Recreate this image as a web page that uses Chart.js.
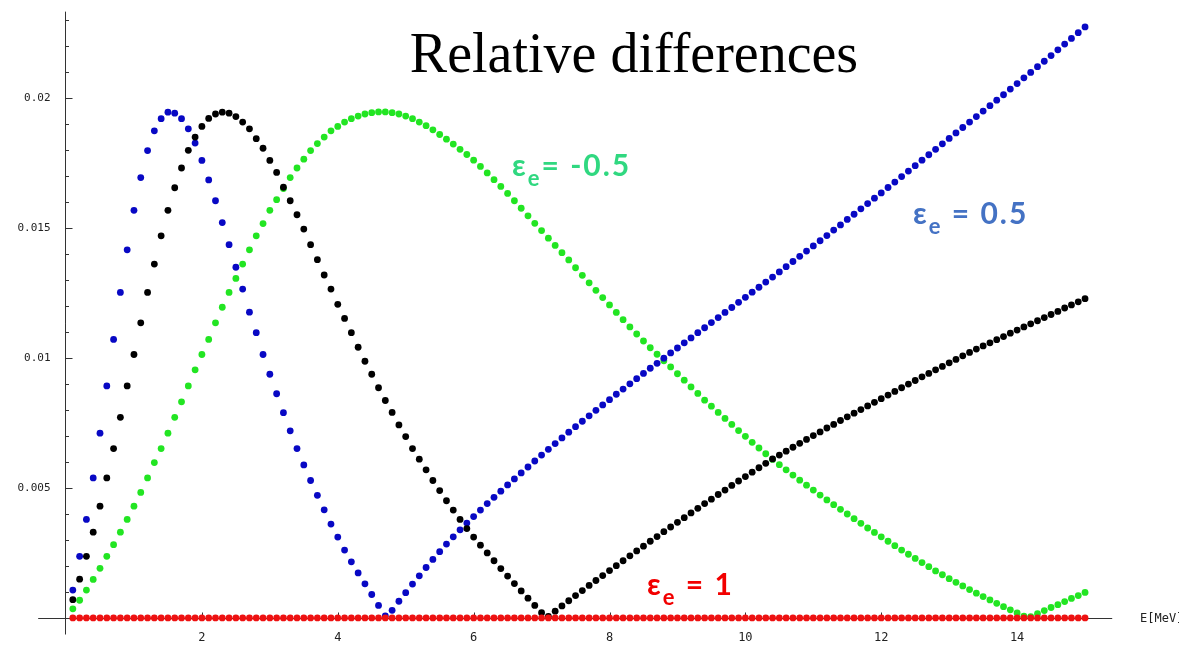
<!DOCTYPE html>
<html>
<head>
<meta charset="utf-8">
<script src="https://cdn.jsdelivr.net/npm/chart.js@4.4.1/dist/chart.umd.min.js"></script>
<style>
  html, body { margin: 0; padding: 0; background: #fff; }
  #wrap { width: 1179px; height: 649px; }
</style>
</head>
<body>
<div id="wrap"><canvas id="plot" width="1179" height="649"></canvas></div>
<script>
// neutrino energy grid, MeV
const energies = [
  0.1, 0.2, 0.3, 0.4, 0.5, 0.6, 0.7, 0.8, 0.9, 1.0,
  1.1, 1.2, 1.3, 1.4, 1.5, 1.6, 1.7, 1.8, 1.9, 2.0,
  2.1, 2.2, 2.3, 2.4, 2.5, 2.6, 2.7, 2.8, 2.9, 3.0,
  3.1, 3.2, 3.3, 3.4, 3.5, 3.6, 3.7, 3.8, 3.9, 4.0,
  4.1, 4.2, 4.3, 4.4, 4.5, 4.6, 4.7, 4.8, 4.9, 5.0,
  5.1, 5.2, 5.3, 5.4, 5.5, 5.6, 5.7, 5.8, 5.9, 6.0,
  6.1, 6.2, 6.3, 6.4, 6.5, 6.6, 6.7, 6.8, 6.9, 7.0,
  7.1, 7.2, 7.3, 7.4, 7.5, 7.6, 7.7, 7.8, 7.9, 8.0,
  8.1, 8.2, 8.3, 8.4, 8.5, 8.6, 8.7, 8.8, 8.9, 9.0,
  9.1, 9.2, 9.3, 9.4, 9.5, 9.6, 9.7, 9.8, 9.9, 10.0,
  10.1, 10.2, 10.3, 10.4, 10.5, 10.6, 10.7, 10.8, 10.9, 11.0,
  11.1, 11.2, 11.3, 11.4, 11.5, 11.6, 11.7, 11.8, 11.9, 12.0,
  12.1, 12.2, 12.3, 12.4, 12.5, 12.6, 12.7, 12.8, 12.9, 13.0,
  13.1, 13.2, 13.3, 13.4, 13.5, 13.6, 13.7, 13.8, 13.9, 14.0,
  14.1, 14.2, 14.3, 14.4, 14.5, 14.6, 14.7, 14.8, 14.9, 15.0
];

// relative difference, eps_e = 0.5 (blue)
const diffPlusHalf = [
  0.00107, 0.00237, 0.00379, 0.00539, 0.00711, 0.00893, 0.01072, 0.01253, 0.01417, 0.01569,
  0.01695, 0.01799, 0.01875, 0.01922, 0.01947, 0.01943, 0.01922, 0.01883, 0.01828, 0.01761,
  0.01686, 0.01606, 0.01522, 0.01437, 0.01350, 0.01266, 0.01177, 0.01098, 0.01014, 0.00938,
  0.00863, 0.00790, 0.00720, 0.00652, 0.00589, 0.00529, 0.00472, 0.00416, 0.00361, 0.00311,
  0.00261, 0.00216, 0.00173, 0.00131, 0.00090, 0.00048, 0.00008, 0.00029, 0.00064, 0.00097,
  0.00130, 0.00162, 0.00194, 0.00225, 0.00255, 0.00284, 0.00312, 0.00339, 0.00365, 0.00390,
  0.00415, 0.00440, 0.00464, 0.00488, 0.00512, 0.00535, 0.00558, 0.00581, 0.00604, 0.00627,
  0.00649, 0.00671, 0.00693, 0.00715, 0.00736, 0.00757, 0.00778, 0.00799, 0.00820, 0.00840,
  0.00861, 0.00881, 0.00901, 0.00921, 0.00941, 0.00961, 0.00980, 0.01000, 0.01020, 0.01039,
  0.01059, 0.01078, 0.01098, 0.01117, 0.01137, 0.01156, 0.01176, 0.01195, 0.01215, 0.01234,
  0.01254, 0.01273, 0.01293, 0.01312, 0.01332, 0.01352, 0.01372, 0.01392, 0.01412, 0.01432,
  0.01452, 0.01472, 0.01493, 0.01513, 0.01534, 0.01554, 0.01575, 0.01595, 0.01616, 0.01636,
  0.01657, 0.01678, 0.01699, 0.01720, 0.01741, 0.01762, 0.01783, 0.01804, 0.01825, 0.01846,
  0.01867, 0.01888, 0.01909, 0.01930, 0.01951, 0.01972, 0.01993, 0.02014, 0.02036, 0.02057,
  0.02079, 0.02100, 0.02122, 0.02143, 0.02165, 0.02187, 0.02209, 0.02231, 0.02253, 0.02275
];

// unlabelled black series
const diffBlack = [
  0.00070, 0.00149, 0.00237, 0.00330, 0.00430, 0.00539, 0.00652, 0.00772, 0.00893, 0.01014,
  0.01136, 0.01253, 0.01362, 0.01471, 0.01569, 0.01656, 0.01732, 0.01800, 0.01851, 0.01892,
  0.01923, 0.01940, 0.01947, 0.01943, 0.01930, 0.01909, 0.01883, 0.01845, 0.01808, 0.01761,
  0.01715, 0.01658, 0.01606, 0.01552, 0.01497, 0.01437, 0.01379, 0.01320, 0.01266, 0.01207,
  0.01153, 0.01098, 0.01042, 0.00988, 0.00938, 0.00886, 0.00837, 0.00791, 0.00743, 0.00698,
  0.00652, 0.00611, 0.00570, 0.00529, 0.00490, 0.00451, 0.00415, 0.00379, 0.00344, 0.00311,
  0.00280, 0.00250, 0.00220, 0.00190, 0.00161, 0.00132, 0.00104, 0.00076, 0.00048, 0.00020,
  0.00006, 0.00026, 0.00046, 0.00066, 0.00086, 0.00105, 0.00125, 0.00144, 0.00163, 0.00182,
  0.00201, 0.00220, 0.00239, 0.00258, 0.00276, 0.00295, 0.00313, 0.00332, 0.00350, 0.00368,
  0.00386, 0.00404, 0.00422, 0.00440, 0.00457, 0.00475, 0.00492, 0.00510, 0.00527, 0.00544,
  0.00561, 0.00578, 0.00595, 0.00612, 0.00627, 0.00642, 0.00657, 0.00672, 0.00687, 0.00702,
  0.00716, 0.00731, 0.00745, 0.00760, 0.00774, 0.00788, 0.00802, 0.00816, 0.00830, 0.00844,
  0.00858, 0.00872, 0.00886, 0.00900, 0.00914, 0.00928, 0.00941, 0.00955, 0.00968, 0.00982,
  0.00995, 0.01009, 0.01022, 0.01035, 0.01047, 0.01059, 0.01071, 0.01083, 0.01096, 0.01108,
  0.01120, 0.01132, 0.01144, 0.01156, 0.01168, 0.01180, 0.01193, 0.01205, 0.01217, 0.01229
];

// relative difference, eps_e = -0.5 (green)
const diffMinusHalf = [
  0.00035, 0.00068, 0.00107, 0.00148, 0.00191, 0.00237, 0.00282, 0.00330, 0.00379, 0.00430,
  0.00483, 0.00539, 0.00598, 0.00652, 0.00711, 0.00772, 0.00832, 0.00893, 0.00955, 0.01014,
  0.01072, 0.01136, 0.01196, 0.01253, 0.01307, 0.01362, 0.01417, 0.01471, 0.01518, 0.01569,
  0.01610, 0.01653, 0.01695, 0.01732, 0.01766, 0.01799, 0.01826, 0.01851, 0.01875, 0.01892,
  0.01909, 0.01922, 0.01932, 0.01940, 0.01945, 0.01948, 0.01948, 0.01945, 0.01940, 0.01932,
  0.01922, 0.01909, 0.01895, 0.01879, 0.01861, 0.01843, 0.01824, 0.01804, 0.01784, 0.01762,
  0.01738, 0.01713, 0.01687, 0.01661, 0.01634, 0.01606, 0.01577, 0.01548, 0.01519, 0.01491,
  0.01462, 0.01434, 0.01406, 0.01378, 0.01348, 0.01319, 0.01290, 0.01261, 0.01233, 0.01205,
  0.01176, 0.01148, 0.01120, 0.01093, 0.01066, 0.01040, 0.01015, 0.00990, 0.00966, 0.00940,
  0.00915, 0.00889, 0.00864, 0.00838, 0.00815, 0.00791, 0.00768, 0.00745, 0.00721, 0.00699,
  0.00676, 0.00654, 0.00632, 0.00610, 0.00590, 0.00570, 0.00550, 0.00530, 0.00511, 0.00492,
  0.00473, 0.00454, 0.00436, 0.00418, 0.00400, 0.00382, 0.00364, 0.00346, 0.00329, 0.00312,
  0.00295, 0.00278, 0.00261, 0.00245, 0.00229, 0.00213, 0.00197, 0.00181, 0.00166, 0.00151,
  0.00137, 0.00123, 0.00109, 0.00095, 0.00082, 0.00069, 0.00056, 0.00043, 0.00031, 0.00019,
  0.00007, 0.00005, 0.00016, 0.00028, 0.00040, 0.00051, 0.00063, 0.00075, 0.00086, 0.00098
];

// relative difference, eps_e = 1 (red)
const diffOne = [
  0, 0, 0, 0, 0, 0, 0, 0, 0, 0,
  0, 0, 0, 0, 0, 0, 0, 0, 0, 0,
  0, 0, 0, 0, 0, 0, 0, 0, 0, 0,
  0, 0, 0, 0, 0, 0, 0, 0, 0, 0,
  0, 0, 0, 0, 0, 0, 0, 0, 0, 0,
  0, 0, 0, 0, 0, 0, 0, 0, 0, 0,
  0, 0, 0, 0, 0, 0, 0, 0, 0, 0,
  0, 0, 0, 0, 0, 0, 0, 0, 0, 0,
  0, 0, 0, 0, 0, 0, 0, 0, 0, 0,
  0, 0, 0, 0, 0, 0, 0, 0, 0, 0,
  0, 0, 0, 0, 0, 0, 0, 0, 0, 0,
  0, 0, 0, 0, 0, 0, 0, 0, 0, 0,
  0, 0, 0, 0, 0, 0, 0, 0, 0, 0,
  0, 0, 0, 0, 0, 0, 0, 0, 0, 0,
  0, 0, 0, 0, 0, 0, 0, 0, 0, 0
];

const xTicks = [2, 4, 6, 8, 10, 12, 14];
const yTicks = [0.005, 0.01, 0.015, 0.02];
const yTickLabels = ['0.005', '0.01', '0.015', '0.02'];

const TICK_FONT = '11px "DejaVu Sans Mono", monospace';
const LABEL_FONT = 'Lato, "DejaVu Sans", sans-serif';

function toPoints(values) {
  return energies.map((e, k) => ({ x: e, y: values[k] }));
}

function dots(values, color) {
  return {
    data: toPoints(values),
    showLine: false,
    pointRadius: 3.4,
    pointHoverRadius: 3.4,
    pointBorderWidth: 0,
    pointBackgroundColor: color,
    borderColor: color
  };
}

// Mathematica-style axes crossing at the origin, ticks pointing inward
const crossAxes = {
  id: 'crossAxes',
  beforeDatasetsDraw(chart) {
    const { ctx, scales: { x, y } } = chart;
    const x0 = Math.round(x.getPixelForValue(0)) - 0.5;
    const y0 = Math.round(y.getPixelForValue(0)) + 0.5;

    ctx.save();
    ctx.strokeStyle = '#333';
    ctx.lineWidth = 1;
    ctx.beginPath();
    ctx.moveTo(x0, y.getPixelForValue(0.02334));
    ctx.lineTo(x0, y0 + 16);
    ctx.moveTo(x.getPixelForValue(-0.41), y0);
    ctx.lineTo(x.getPixelForValue(15.4), y0);

    // y ticks every 0.001, longer at the labelled ones
    for (let k = 1; k <= 23; k++) {
      const py = Math.round(y.getPixelForValue(k / 1000)) + 0.5;
      ctx.moveTo(x0, py);
      ctx.lineTo(x0 + (k % 5 === 0 ? 7 : 3.5), py);
    }
    // x ticks every 0.5 MeV
    for (let k = 1; k <= 30; k++) {
      const px = Math.round(x.getPixelForValue(k / 2)) + 0.5;
      ctx.moveTo(px, y0);
      ctx.lineTo(px, y0 - (k % 4 === 0 ? 6 : 3));
    }
    ctx.stroke();

    ctx.fillStyle = '#222';
    ctx.font = TICK_FONT;
    ctx.textAlign = 'right';
    ctx.textBaseline = 'middle';
    yTicks.forEach((v, k) => {
      ctx.fillText(yTickLabels[k], x0 - 15, y.getPixelForValue(v));
    });
    ctx.font = '12px "DejaVu Sans Mono", monospace';
    ctx.textAlign = 'center';
    xTicks.forEach(v => {
      ctx.fillText(String(v), x.getPixelForValue(v), y0 + 19);
    });
    ctx.textAlign = 'left';
    ctx.fillText('E[MeV]', 1140, y0);
    ctx.restore();
  }
};

function drawEps(ctx, left, base, tail, color, size) {
  ctx.fillStyle = color;
  ctx.textAlign = 'left';
  ctx.textBaseline = 'alphabetic';
  ctx.letterSpacing = '2px';
  ctx.font = `bold ${size}px ${LABEL_FONT}`;
  ctx.fillText('\u03b5', left, base);
  let px = left + ctx.measureText('\u03b5').width;
  ctx.font = `bold ${Math.round(size * 0.72)}px ${LABEL_FONT}`;
  ctx.fillText('e', px, base + size * 0.33);
  px += ctx.measureText('e').width;
  ctx.font = `bold ${size}px ${LABEL_FONT}`;
  ctx.fillText(tail, px, base);
  ctx.letterSpacing = '0px';
}

const annotations = {
  id: 'annotations',
  afterDraw(chart) {
    const ctx = chart.ctx;
    ctx.save();
    ctx.fillStyle = '#000';
    ctx.font = '56px "Liberation Serif", "Times New Roman", serif';
    ctx.textAlign = 'center';
    ctx.textBaseline = 'alphabetic';
    ctx.fillText('Relative differences', 634, 72);

    drawEps(ctx, 512, 176, '= -0.5', '#30d880', 30);
    drawEps(ctx, 913, 224, ' = 0.5', '#4472c4', 30);
    drawEps(ctx, 647, 595, ' = 1', '#f20000', 30);
    ctx.restore();
  }
};

new Chart(document.getElementById('plot'), {
  type: 'scatter',
  data: {
    datasets: [
      dots(diffOne, '#ee1111'),
      dots(diffBlack, '#000000'),
      dots(diffPlusHalf, '#0808c4'),
      dots(diffMinusHalf, '#22e522')
    ]
  },
  options: {
    responsive: false,
    animation: false,
    events: [],
    layout: { padding: 0 },
    plugins: { legend: { display: false }, tooltip: { enabled: false } },
    scales: {
      x: { type: 'linear', min: -0.922, max: 16.333, display: false },
      y: { type: 'linear', min: -0.0010667, max: 0.023657, display: false }
    }
  },
  plugins: [crossAxes, annotations]
});
</script>
</body>
</html>
